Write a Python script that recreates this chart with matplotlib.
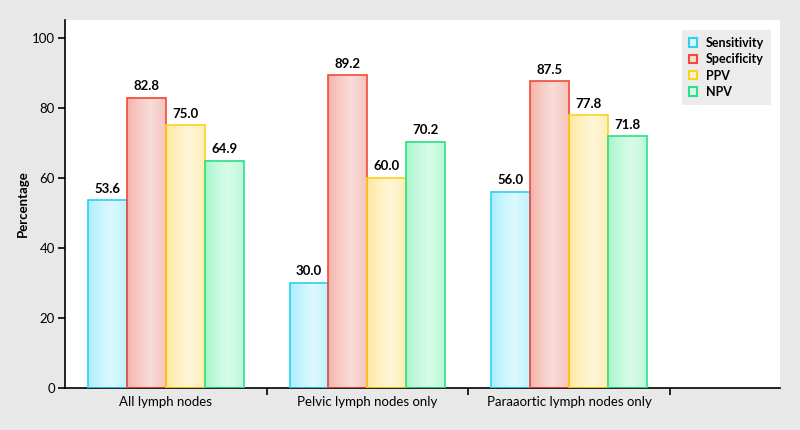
import matplotlib.pyplot as plt
import numpy as np
from matplotlib.colors import to_rgb
from matplotlib.patches import Patch

plt.rcParams['font.family'] = ['Lato', 'DejaVu Sans']

groups = ['All lymph nodes', 'Pelvic lymph nodes only', 'Paraaortic lymph nodes only']
series = ['Sensitivity', 'Specificity', 'PPV', 'NPV']
sensitivity = [53.6, 30.0, 56.0]
specificity = [82.8, 89.2, 87.5]
ppv = [75.0, 60.0, 77.8]
npv = [64.9, 70.2, 71.8]

edge_colors = ['#2fd0f0', '#f04a38', '#ffd21a', '#2ee08a']
dark_fill = ['#a6ecfc', '#f3aea4', '#fde69a', '#a2f4c8']
light_fill = ['#dcf9ff', '#f9dcd8', '#fff6d8', '#d8fcea']

fig = plt.figure(figsize=(8, 4.3), dpi=100, facecolor='#e8e8e8')
ax = fig.add_axes([0.081, 0.0977, 0.894, 0.8558])
ax.set_facecolor('white')

x = np.arange(len(groups))
w = 0.193
values = [sensitivity, specificity, ppv, npv]


def gradient(c_dark, c_light, n=64):
    t = np.linspace(0, 1, n)
    # lightest a bit right of centre
    k = 1 - np.abs(t - 0.6) / 0.6
    k = np.clip(k, 0, 1) ** 0.7
    d = np.array(to_rgb(c_dark))
    l = np.array(to_rgb(c_light))
    return (d[None, :] * (1 - k[:, None]) + l[None, :] * k[:, None])[None, :, :]


for i, vals in enumerate(values):
    pos = x + (i - 1.5) * w
    bars = ax.bar(pos, vals, w, facecolor='none', edgecolor=edge_colors[i],
                  linewidth=1.2, zorder=3)
    img = gradient(dark_fill[i], light_fill[i])
    for b in bars:
        ax.imshow(img, extent=[b.get_x(), b.get_x() + b.get_width(), 0, b.get_height()],
                  aspect='auto', zorder=2, interpolation='bilinear')
    for p, v in zip(pos, vals):
        ax.annotate(f'{v:.1f}', (p, v), xytext=(0, 4), textcoords='offset points',
                    ha='center', va='bottom', fontsize=9.5, fontweight='bold')

ax.set_xlim(-0.5, 3.045)
ax.set_ylim(0, 105)
ax.set_yticks([0, 20, 40, 60, 80, 100])
ax.set_xticks(x)
ax.set_xticklabels(groups, fontsize=9.5)
ax.tick_params(axis='x', which='major', length=0, pad=6)
ax.set_xticks([0.5, 1.5, 2.5], minor=True)
ax.tick_params(axis='x', which='minor', length=5, width=1.2)
ax.tick_params(axis='y', labelsize=9.5, length=5, width=1.2, pad=2)
ax.spines['top'].set_visible(False)
ax.spines['right'].set_visible(False)
ax.spines['left'].set_linewidth(1.2)
ax.spines['bottom'].set_linewidth(1.2)
ax.set_ylabel('Percentage', fontsize=9.5, fontweight='bold', labelpad=2)

handles = [Patch(facecolor=light_fill[i], edgecolor=edge_colors[i], linewidth=1.5)
           for i in range(4)]
leg = ax.legend(handles, series, loc='upper right', bbox_to_anchor=(0.987, 0.973),
                frameon=True, fancybox=False, handlelength=0.65, handleheight=0.65,
                handletextpad=0.65, labelspacing=0.35, borderpad=0.55, borderaxespad=0,
                prop={'weight': 'bold', 'size': 9})
leg.get_frame().set_facecolor('#e8e8e8')
leg.get_frame().set_edgecolor('none')

fig.savefig('out.png', dpi=100, facecolor=fig.get_facecolor())
